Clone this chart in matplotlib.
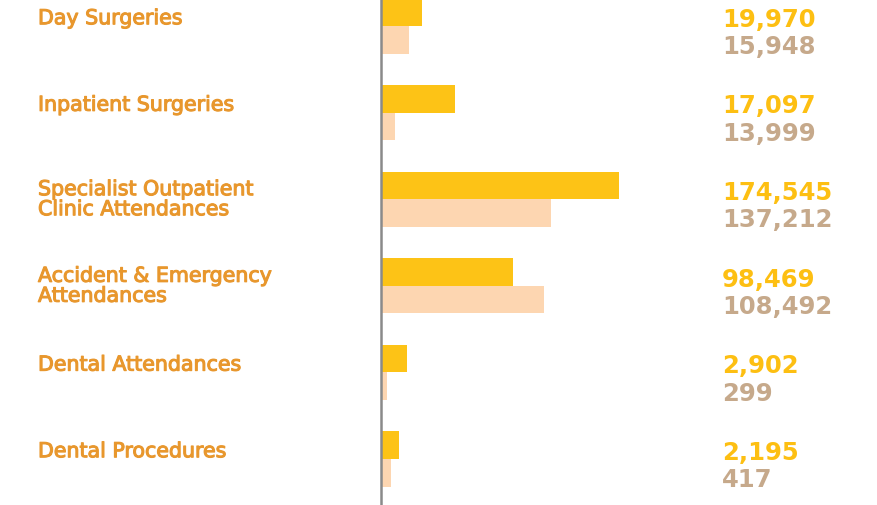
import matplotlib.pyplot as plt
import matplotlib.patheffects as pe
import numpy as np

categorias = ["Day Surgeries", "Inpatient Surgeries",
              "Specialist Outpatient\nClinic Attendances",
              "Accident & Emergency\nAttendances",
              "Dental Attendances", "Dental Procedures"]
# longitud relativa de las barras
barra_actual = [41, 74, 238, 132, 26, 18]
barra_anterior = [28, 14, 170, 163, 6, 10]
# cifras que se muestran a la derecha
texto_actual = ["19,970", "17,097", "174,545", "98,469", "2,902", "2,195"]
texto_anterior = ["15,948", "13,999", "137,212", "108,492", "299", "417"]

AMARILLO = "#FDC316"
DURAZNO = "#FDD6B1"
NARANJA = "#E8972D"
AMARILLO_TXT = "#FDBF12"
TOSTADO = "#C6A98B"

fig = plt.figure(figsize=(8.77, 5.06), dpi=100)
ax = fig.add_axes([0, 0, 1, 1])

y = np.arange(len(categorias))
alto = 0.318
ax.barh(y - alto / 2, barra_actual, height=alto, color=AMARILLO)
ax.barh(y + alto / 2, barra_anterior, height=alto, color=DURAZNO)
ax.axvline(0, color="#8a8a8a", lw=1.8)

grueso = [pe.withStroke(linewidth=0.8, foreground=NARANJA)]
for i, cat in enumerate(categorias):
    dy = 0.0 if "\n" in cat else -0.09
    ax.text(-343, i + dy, cat, ha="left", va="center", color=NARANJA,
            fontsize=14.8, family="DejaVu Sans", linespacing=1.0,
            path_effects=grueso)
    ax.text(341, i - alto / 2 + 0.075, texto_actual[i], ha="left", va="center",
            color=AMARILLO_TXT, fontsize=17.5, fontweight="bold")
    ax.text(341, i + alto / 2 + 0.075, texto_anterior[i], ha="left", va="center",
            color=TOSTADO, fontsize=17.5, fontweight="bold")

ax.set_xlim(-381, 496)
ax.set_ylim(5.531, -0.312)
ax.axis("off")

fig.savefig("out.png", dpi=100)
